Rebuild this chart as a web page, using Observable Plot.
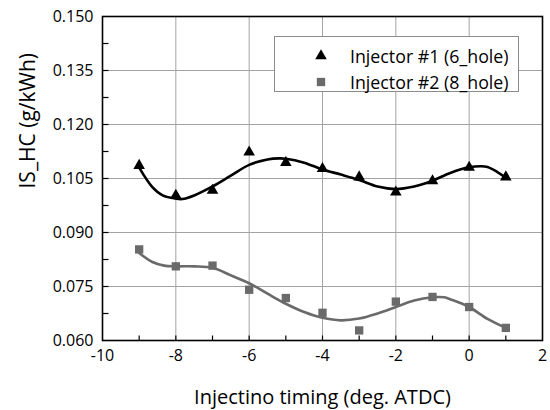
<!DOCTYPE html>
<html><head><meta charset="utf-8">
<script src="https://cdn.jsdelivr.net/npm/d3@7"></script>
<script src="https://cdn.jsdelivr.net/npm/@observablehq/plot@0.6"></script>
<style>
body{margin:0;background:#fff;}
#wrap{position:relative;width:550px;height:410px;font-family:"Open Sans",sans-serif;}
#legend{position:absolute;left:274px;top:36px;width:245px;height:56px;background:#fff;border:1px solid #8c8c8c;box-sizing:border-box;}
#legend .row{position:absolute;left:0;height:20px;display:flex;align-items:center;font-size:17.8px;color:#000;}
#legend svg{margin-left:39px;margin-right:22px;}
</style></head>
<body><div id="wrap"><div id="legend"></div></div>
<script>
// Data
const timing = [-9, -8, -7, -6, -5, -4, -3, -2, -1, 0, 1];
const injector1 = [0.1086, 0.1003, 0.1017, 0.1123, 0.1094, 0.1077, 0.1054, 0.1012, 0.1043, 0.1081, 0.1054];
const injector2 = [0.0853, 0.0806, 0.0808, 0.0741, 0.0718, 0.0677, 0.0628, 0.0708, 0.0721, 0.0693, 0.0635];
// fitted curves as drawn in the picture
const fit1X = [-9, -8.64, -8.36, -8, -7.82, -7.5, -7, -6.5, -6, -5.5, -5.18, -5, -4.5, -4, -3.5, -3, -2.5, -2, -1.5, -1, -0.5, 0, 0.32, 0.5, 0.77, 1];
const fit1Y = [0.1080, 0.1026, 0.1003, 0.0994, 0.0993, 0.1003, 0.1028, 0.1058, 0.1088, 0.1103, 0.1106, 0.1105, 0.1094, 0.1075, 0.1061, 0.1046, 0.1028, 0.1021, 0.1028, 0.1044, 0.1066, 0.1081, 0.1084, 0.1082, 0.1068, 0.1052];
const fit2X = [-9, -8.64, -8.32, -8, -7.5, -7, -6.5, -6, -5.5, -5, -4.5, -4, -3.5, -3, -2.5, -2, -1.5, -1, -0.68, -0.5, 0, 0.5, 1];
const fit2Y = [0.0843, 0.0818, 0.0808, 0.0806, 0.0806, 0.0802, 0.0781, 0.0759, 0.0730, 0.0702, 0.0679, 0.0663, 0.0656, 0.0661, 0.0675, 0.0693, 0.0711, 0.0720, 0.0720, 0.0714, 0.0693, 0.0660, 0.0635];
const seriesNames = ["Injector #1 (6_hole)", "Injector #2 (8_hole)"];
const xDomain = [-10, 2];
const yDomain = [0.060, 0.150];
const xTickLabels = [-10, -8, -6, -4, -2, 0, 2];
const yTickLabels = [0.060, 0.075, 0.090, 0.105, 0.120, 0.135, 0.150];
const xGrid = [-8, -6, -4, -2, 0];
const yGrid = [0.075, 0.090, 0.105, 0.120, 0.135];
const xMinorTicks = [-9, -8, -7, -6, -5, -4, -3, -2, -1, 0, 1];
const yMinorTicks = [0.0675, 0.075, 0.0825, 0.090, 0.0975, 0.105, 0.1125, 0.120, 0.1275, 0.135, 0.1425];
const xTitle = "Injectino timing (deg. ATDC)";
const yTitle = "IS_HC (g/kWh)";

const black = "#000000", gray = "#6a6a6a";
const pts1 = timing.map((x, i) => ({x, y: injector1[i]}));
const pts2 = timing.map((x, i) => ({x, y: injector2[i]}));
const curve1 = fit1X.map((x, i) => ({x, y: fit1Y[i]}));
const curve2 = fit2X.map((x, i) => ({x, y: fit2Y[i]}));

const tickUp = {draw(ctx, size) { const l = Math.sqrt(size / Math.PI); ctx.moveTo(0, 0); ctx.lineTo(0, -l); }};
const tickRight = {draw(ctx, size) { const l = Math.sqrt(size / Math.PI); ctx.moveTo(0, 0); ctx.lineTo(l, 0); }};

const chart = Plot.plot({
  width: 550, height: 410,
  marginLeft: 102, marginRight: 8, marginTop: 16, marginBottom: 70,
  style: {fontFamily: "'Open Sans', sans-serif", background: "#fff"},
  x: {domain: xDomain},
  y: {domain: yDomain},
  marks: [
    Plot.ruleX(xGrid, {stroke: "#a3a3a3", strokeWidth: 1}),
    Plot.ruleY(yGrid, {stroke: "#a3a3a3", strokeWidth: 1}),
    Plot.dot(xMinorTicks, {x: d => d, frameAnchor: "bottom", symbol: tickUp, r: 5, stroke: black, strokeWidth: 1.2, fill: "none"}),
    Plot.dot(yMinorTicks, {y: d => d, frameAnchor: "left", symbol: tickRight, r: 6, stroke: black, strokeWidth: 1.2, fill: "none"}),
    Plot.axisX(xTickLabels, {tickSize: 0, tickPadding: 9, fontSize: 16, label: null, tickFormat: d => String(d), fill: "#000"}),
    Plot.axisY(yTickLabels, {tickSize: 0, tickPadding: 9, fontSize: 16, label: null, tickFormat: d3.format(".3f"), fill: "#000"}),
    Plot.line(curve1, {x: "x", y: "y", curve: "catmull-rom", stroke: black, strokeWidth: 2.6}),
    Plot.line(curve2, {x: "x", y: "y", curve: "catmull-rom", stroke: gray, strokeWidth: 2.6}),
    Plot.dot(pts1, {x: "x", y: "y", symbol: "triangle", r: 4.3, fill: black, stroke: "none"}),
    Plot.dot(pts2, {x: "x", y: "y", symbol: "square", r: 4.7, fill: gray, stroke: "none"}),
    Plot.frame({stroke: black, strokeWidth: 1.6}),
    Plot.text([xTitle], {frameAnchor: "bottom", dy: 57, fontSize: 20, fill: "#000", lineAnchor: "middle"}),
    Plot.text([yTitle], {frameAnchor: "left", dx: -74, dy: 10, rotate: -90, fontSize: 21, fill: "#000", lineAnchor: "middle"})
  ]
});
const wrap = document.getElementById("wrap");
wrap.insertBefore(chart, wrap.firstChild);

// Legend
const legend = document.getElementById("legend");
const syms = [d3.symbolTriangle, d3.symbolSquare];
const rs = [4.3, 4.7];
const cols = [black, gray];
seriesNames.forEach((name, i) => {
  const row = document.createElement("div");
  row.className = "row";
  row.style.top = (i === 0 ? 9 : 34.5) + "px";
  const svg = d3.create("svg").attr("width", 14).attr("height", 14);
  svg.append("path").attr("transform", "translate(7,7)")
    .attr("d", d3.symbol(syms[i], rs[i] * rs[i] * Math.PI)()).attr("fill", cols[i]);
  row.appendChild(svg.node());
  const span = document.createElement("span");
  span.textContent = name;
  row.appendChild(span);
  legend.appendChild(row);
});
</script>
</body></html>
